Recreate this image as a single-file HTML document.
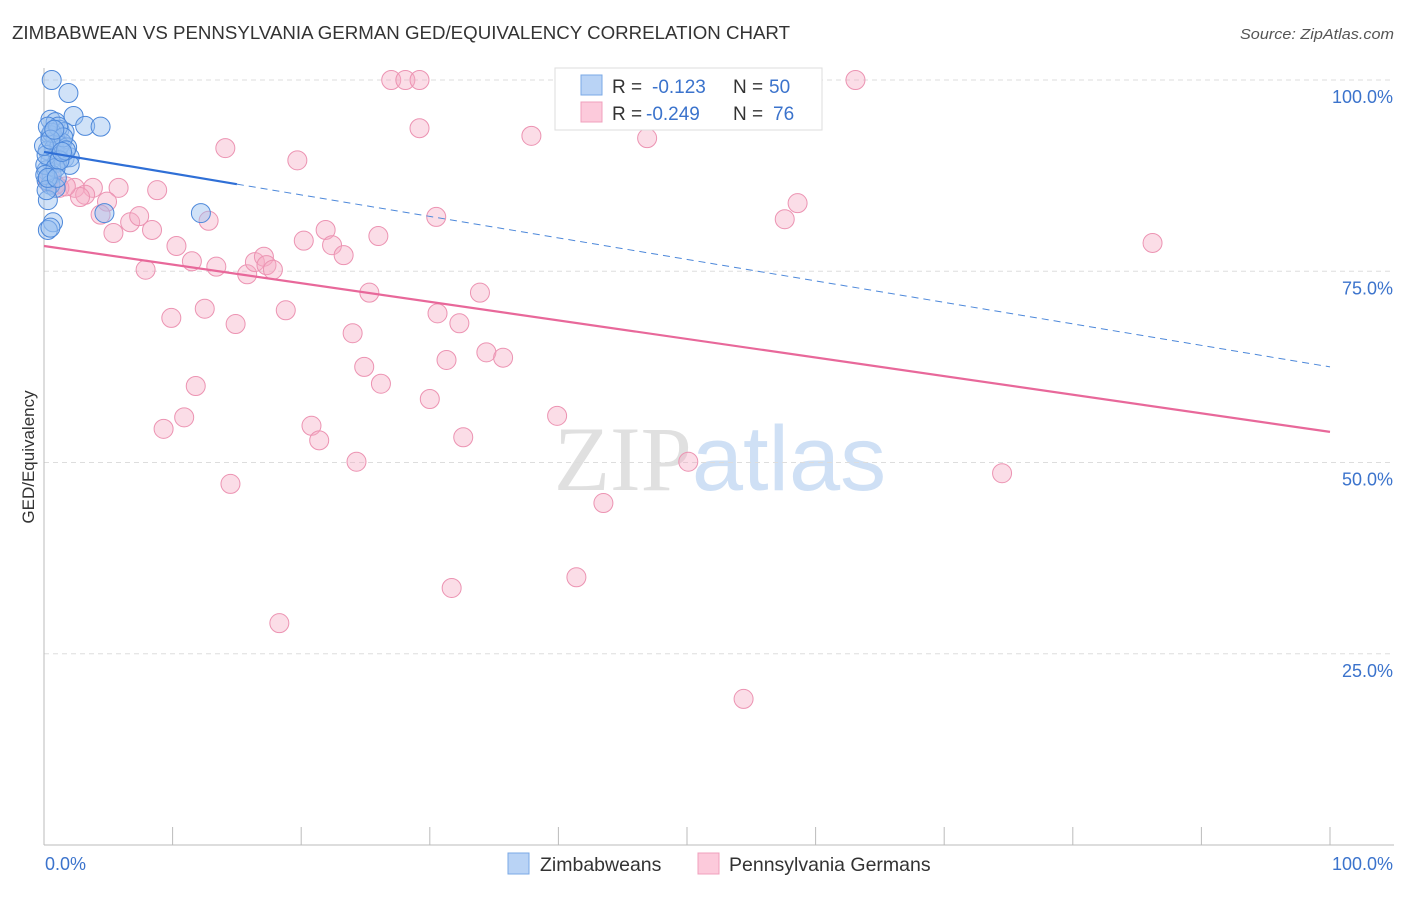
<!DOCTYPE html>
<html><head><meta charset="utf-8">
<style>
body{margin:0;background:#fff;font-family:"Liberation Sans",sans-serif;}
svg text{font-family:"Liberation Sans",sans-serif;}
</style></head>
<body>
<svg id="chart" width="1406" height="892" xmlns="http://www.w3.org/2000/svg">
<text x="12" y="39" font-size="18" fill="#333" textLength="778" lengthAdjust="spacingAndGlyphs">ZIMBABWEAN VS PENNSYLVANIA GERMAN GED/EQUIVALENCY CORRELATION CHART</text>
<text x="1240" y="39" font-size="15" fill="#555" font-style="italic" textLength="154" lengthAdjust="spacingAndGlyphs">Source: ZipAtlas.com</text>
<text x="720" y="490" font-size="92" text-anchor="middle"><tspan fill="#e0e0e0" font-family="Liberation Serif">ZIP</tspan><tspan fill="#cfe0f5">atlas</tspan></text>
<g id="grid"></g>
<g id="axes"></g>
<g id="pink"></g>
<g id="blue"></g>
<g id="lines"></g>
<text transform="translate(34,457) rotate(-90)" font-size="17" fill="#333" text-anchor="middle">GED/Equivalency</text>
<g>
<rect x="555" y="68" width="267" height="62" fill="#fff" stroke="#ddd"/>
<rect x="581" y="75" width="21" height="20" fill="#b9d3f5" stroke="#7aa8e6"/>
<rect x="581" y="102" width="21" height="20" fill="#fccadb" stroke="#f0a0bc"/>
<text x="612" y="93" font-size="19" fill="#333">R =</text>
<text x="652" y="93" font-size="19" fill="#3b73cc">-0.123</text>
<text x="733" y="93" font-size="19" fill="#333">N =</text>
<text x="769" y="93" font-size="19" fill="#3b73cc">50</text>
<text x="612" y="120" font-size="19" fill="#333">R =</text>
<text x="646" y="120" font-size="19" fill="#3b73cc">-0.249</text>
<text x="733" y="120" font-size="19" fill="#333">N =</text>
<text x="773" y="120" font-size="19" fill="#3b73cc">76</text>
</g>
<g>
<rect x="508" y="853" width="21" height="21" fill="#b9d3f5" stroke="#7aa8e6"/>
<text x="540" y="871" font-size="19.5" fill="#333">Zimbabweans</text>
<rect x="698" y="853" width="21" height="21" fill="#fccadb" stroke="#f0a0bc"/>
<text x="729" y="871" font-size="19.5" fill="#333">Pennsylvania Germans</text>
</g>
</svg>
<script>
const blueX=[0.6,1.9,2.3,3.2,4.4,0.5,0.9,1.2,1.6,0.5,0.9,1.4,0.3,0.8,1.1,1.6,2.0,0.5,1.0,2.0,0.2,0.6,0.2,0.5,0.9,0.3,0.7,0.3,0.5,12.2,4.7,1.2,1.8,0.1,0.2,0.6,1.1,1.5,0.3,0.9,0.1,0.2,1.2,0.0,1.7,0.5,0.8,1.4,0.3,1.0];
const blueY=[100,98.3,95.3,94.0,93.9,94.8,94.5,93.5,93.2,92.8,92.2,91.8,90.8,91.1,90.2,89.8,89.9,89.5,89.2,88.9,88.2,87.6,86.9,86.3,85.9,84.3,81.4,80.4,80.7,82.6,82.6,91.4,91.2,88.9,90.2,93.1,93.9,92.5,93.9,88.5,87.6,85.6,89.5,91.4,90.8,92.2,93.5,90.6,87.2,87.2];
const pinkX=[27.0,28.1,29.2,63.1,29.2,37.9,46.9,14.1,19.7,3.8,5.8,8.8,2.4,1.2,3.2,4.9,2.8,4.4,6.7,7.4,12.8,5.4,8.4,58.6,57.6,30.5,21.9,20.2,22.4,26.0,23.3,10.3,11.5,7.9,13.4,15.8,16.4,17.1,17.3,17.8,86.2,25.3,33.9,9.9,12.5,14.9,18.8,30.6,32.3,24.0,34.4,35.7,31.3,24.9,26.2,11.8,30.0,39.9,10.9,20.8,9.3,21.4,32.6,24.3,50.1,74.5,14.5,43.5,41.4,31.7,18.3,54.4,0.9,0.5,1.7,0.3];
const pinkY=[100,100,100,100,93.7,92.7,92.4,91.1,89.5,85.9,85.9,85.6,85.9,85.9,85.0,84.1,84.7,82.4,81.4,82.2,81.6,80.0,80.4,83.9,81.8,82.1,80.4,79.0,78.4,79.6,77.1,78.3,76.3,75.2,75.6,74.6,76.2,76.9,75.8,75.2,78.7,72.2,72.2,68.9,70.1,68.1,69.9,69.5,68.2,66.9,64.4,63.7,63.4,62.5,60.3,60.0,58.3,56.1,55.9,54.8,54.4,52.9,53.3,50.1,50.1,48.6,47.2,44.7,35.0,33.6,29.0,19.1,86.3,87.2,86.1,86.7];
const blueTrend=[90.6,62.5];
const blueSolidEnd=15;
const pinkTrend=[78.3,54.0];
const yTicks=[25,50,75,100];
const yTickLabels=["25.0%","50.0%","75.0%","100.0%"];
const xTicks=[0,10,20,30,40,50,60,70,80,90,100];

const L=44,R=1330,T=80,B=845;
const sx=v=>L+(R-L)*v/100;
const sy=v=>B-(B-T)*v/100;
const NS="http://www.w3.org/2000/svg";
function mk(tag,parent,attrs){const e=document.createElementNS(NS,tag);for(const k in attrs)e.setAttribute(k,attrs[k]);parent.appendChild(e);return e;}
const grid=document.getElementById('grid'),axes=document.getElementById('axes');
yTicks.forEach((t,i)=>{
  const g=mk('line',grid,{x1:L,x2:1394,y1:sy(t),y2:sy(t),stroke:'#ddd','stroke-dasharray':'5,4'});
  
  
  const lb=mk('text',axes,{x:1393,y:sy(t)+23,'font-size':18,fill:'#3b73cc','text-anchor':'end'});
  lb.textContent=yTickLabels[i];
  
  
});
mk('line',axes,{x1:L,x2:L,y1:68,y2:B,stroke:'#bbb'});
mk('line',axes,{x1:L,x2:1394,y1:B,y2:B,stroke:'#bbb'});
xTicks.forEach(t=>{const tk=mk('line',axes,{x1:sx(t),x2:sx(t),y1:827,y2:B,stroke:'#bbb'});
  
  });
const x0=mk('text',axes,{x:45,y:870,'font-size':18,fill:'#3b73cc'});x0.textContent="0.0%";


const x1=mk('text',axes,{x:1393,y:870,'font-size':18,fill:'#3b73cc','text-anchor':'end'});x1.textContent="100.0%";



const pg=document.getElementById('pink');
pinkX.forEach((x,i)=>{const c=mk('circle',pg,{cx:sx(x),cy:sy(pinkY[i]),r:9.5,fill:'rgba(246,170,196,0.4)',stroke:'#ec93b2','stroke-width':1});
  
  });
const bg=document.getElementById('blue');
blueX.forEach((x,i)=>{const c=mk('circle',bg,{cx:sx(x),cy:sy(blueY[i]),r:9.5,fill:'rgba(150,190,240,0.45)',stroke:'#4d88da','stroke-width':1});
  
  });
const ln=document.getElementById('lines');
const by=x=>blueTrend[0]+(blueTrend[1]-blueTrend[0])*x/100;
const l1=mk('line',ln,{x1:sx(0),y1:sy(by(0)),x2:sx(blueSolidEnd),y2:sy(by(blueSolidEnd)),stroke:'#2f6fd6','stroke-width':2.2});


const l2=mk('line',ln,{x1:sx(blueSolidEnd),y1:sy(by(blueSolidEnd)),x2:sx(100),y2:sy(by(100)),stroke:'#4d88da','stroke-width':1,'stroke-dasharray':'7,5'});


const l3=mk('line',ln,{x1:sx(0),y1:sy(pinkTrend[0]),x2:sx(100),y2:sy(pinkTrend[1]),stroke:'#e8689a','stroke-width':2.2});


</script>
</body></html>
